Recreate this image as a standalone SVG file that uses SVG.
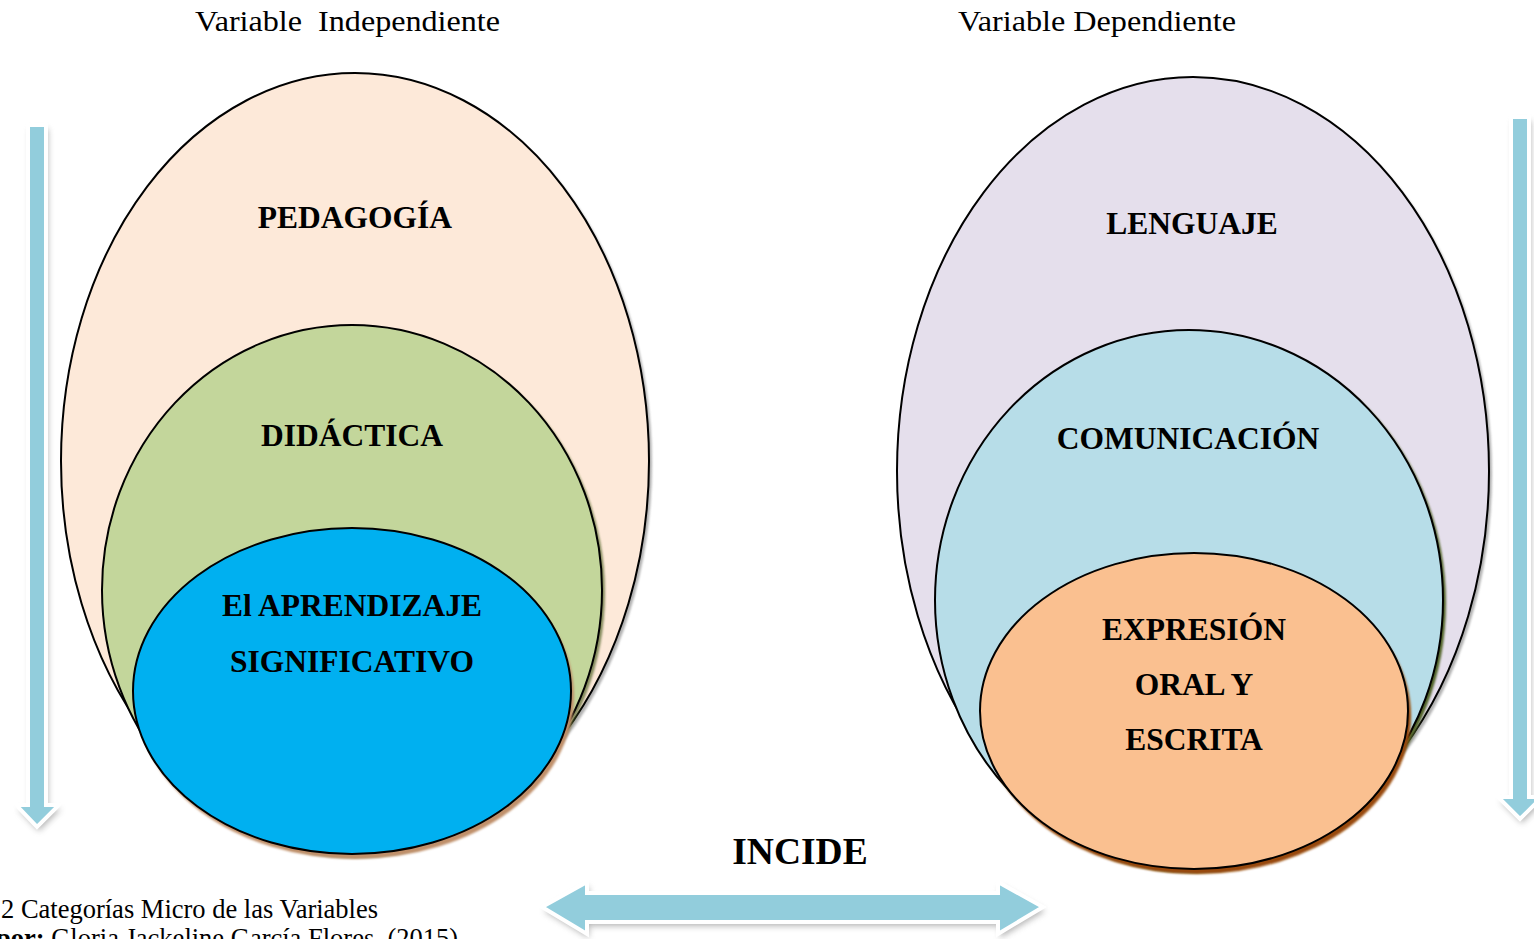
<svg xmlns="http://www.w3.org/2000/svg" width="1534" height="939" viewBox="0 0 1534 939">
<defs>
<filter id="sh" x="-10%" y="-10%" width="120%" height="120%">
<feGaussianBlur stdDeviation="1.2"/>
</filter>
<filter id="sha" x="-30%" y="-10%" width="160%" height="120%">
<feGaussianBlur stdDeviation="3"/>
</filter>
<style>
.t{font-family:"Liberation Serif","Times New Roman",serif;fill:#000}
.h{font-size:30px}
.b{font-size:31.5px;font-weight:bold;text-anchor:middle}
.e{stroke:#000;stroke-width:2}
.arr{fill:#92cddc;stroke:#fff;stroke-width:4;stroke-linejoin:miter}
</style>
</defs>
<rect width="1534" height="939" fill="#fff"/>
<text class="t h" x="195" y="31" xml:space="preserve" textLength="305" lengthAdjust="spacingAndGlyphs">Variable  Independiente</text>
<text class="t h" x="958" y="31" textLength="278" lengthAdjust="spacingAndGlyphs">Variable Dependiente</text>

<g id="connectors">
<g id="arrow-left">
<path d="M28 125 H46 V805 H59 L37 827 L16 805 H28 Z" fill="#777" opacity="0.55" filter="url(#sha)" transform="translate(2,4)"/>
<path class="arr" d="M28 125 H46 V805 H59 L37 827 L16 805 H28 Z"/>
</g>
<g id="arrow-right">
<path d="M1511 117 H1529 V797 H1542 L1520 819 L1498 797 H1511 Z" fill="#777" opacity="0.55" filter="url(#sha)" transform="translate(2,4)"/>
<path class="arr" d="M1511 117 H1529 V797 H1542 L1520 819 L1498 797 H1511 Z"/>
</g>
<g id="arrow-incide">
<path d="M542 907 L587 882 V893 H998 V882 L1043 907 L998 934 V922 H587 V934 Z" fill="#777" opacity="0.55" filter="url(#sha)" transform="translate(2,4)"/>
<path class="arr" d="M542 907 L587 882 V893 H998 V882 L1043 907 L998 934 V922 H587 V934 Z"/>
</g>
</g>

<g id="node-pedagogia">
<ellipse cx="358" cy="464" rx="294" ry="388" fill="#7f7f7f" opacity="0.6" filter="url(#sh)"/>
<ellipse class="e" cx="355" cy="461" rx="294" ry="388" fill="#fde9d9"/>
<text class="t b" x="355" y="228">PEDAGOGÍA</text>
</g>
<g id="node-didactica">
<ellipse cx="355" cy="593" rx="250" ry="265" fill="#4f6228" opacity="0.7" filter="url(#sh)"/>
<ellipse class="e" cx="352" cy="590" rx="250" ry="265" fill="#c3d69b"/>
<text class="t b" x="352" y="446">DIDÁCTICA</text>
</g>
<g id="node-aprendizaje">
<ellipse cx="355" cy="696" rx="219" ry="163" fill="#c0906a" filter="url(#sh)"/>
<ellipse class="e" cx="352" cy="691" rx="219" ry="163" fill="#00b0f0"/>
<text class="t b" x="352" y="616">El APRENDIZAJE</text>
<text class="t b" x="352" y="672">SIGNIFICATIVO</text>
</g>

<g id="node-lenguaje">
<ellipse cx="1196" cy="474" rx="296" ry="394" fill="#7f7f7f" opacity="0.6" filter="url(#sh)"/>
<ellipse class="e" cx="1193" cy="471" rx="296" ry="394" fill="#e5dfec"/>
<text class="t b" x="1192" y="234">LENGUAJE</text>
</g>
<g id="node-comunicacion">
<ellipse cx="1192" cy="603" rx="254" ry="270" fill="#4f6228" filter="url(#sh)"/>
<ellipse class="e" cx="1189" cy="600" rx="254" ry="270" fill="#b7dde8"/>
<text class="t b" x="1188" y="449">COMUNICACIÓN</text>
</g>
<g id="node-expresion">
<ellipse cx="1197" cy="716" rx="214" ry="158" fill="#984807" filter="url(#sh)"/>
<ellipse class="e" cx="1194" cy="711" rx="214" ry="158" fill="#fac090"/>
<text class="t b" x="1194" y="640">EXPRESIÓN</text>
<text class="t b" x="1194" y="695">ORAL Y</text>
<text class="t b" x="1194" y="750">ESCRITA</text>
</g>

<text class="t" x="800" y="864" style="font-size:37.5px;font-weight:bold;text-anchor:middle">INCIDE</text>
<text class="t" x="1" y="918" style="font-size:26.5px">2 Categorías Micro de las Variables</text>
<text class="t" x="-4" y="947" style="font-size:26.5px"><tspan font-weight="bold">por:</tspan> Gloria Jackeline García Flores, (2015)</text>
</svg>
